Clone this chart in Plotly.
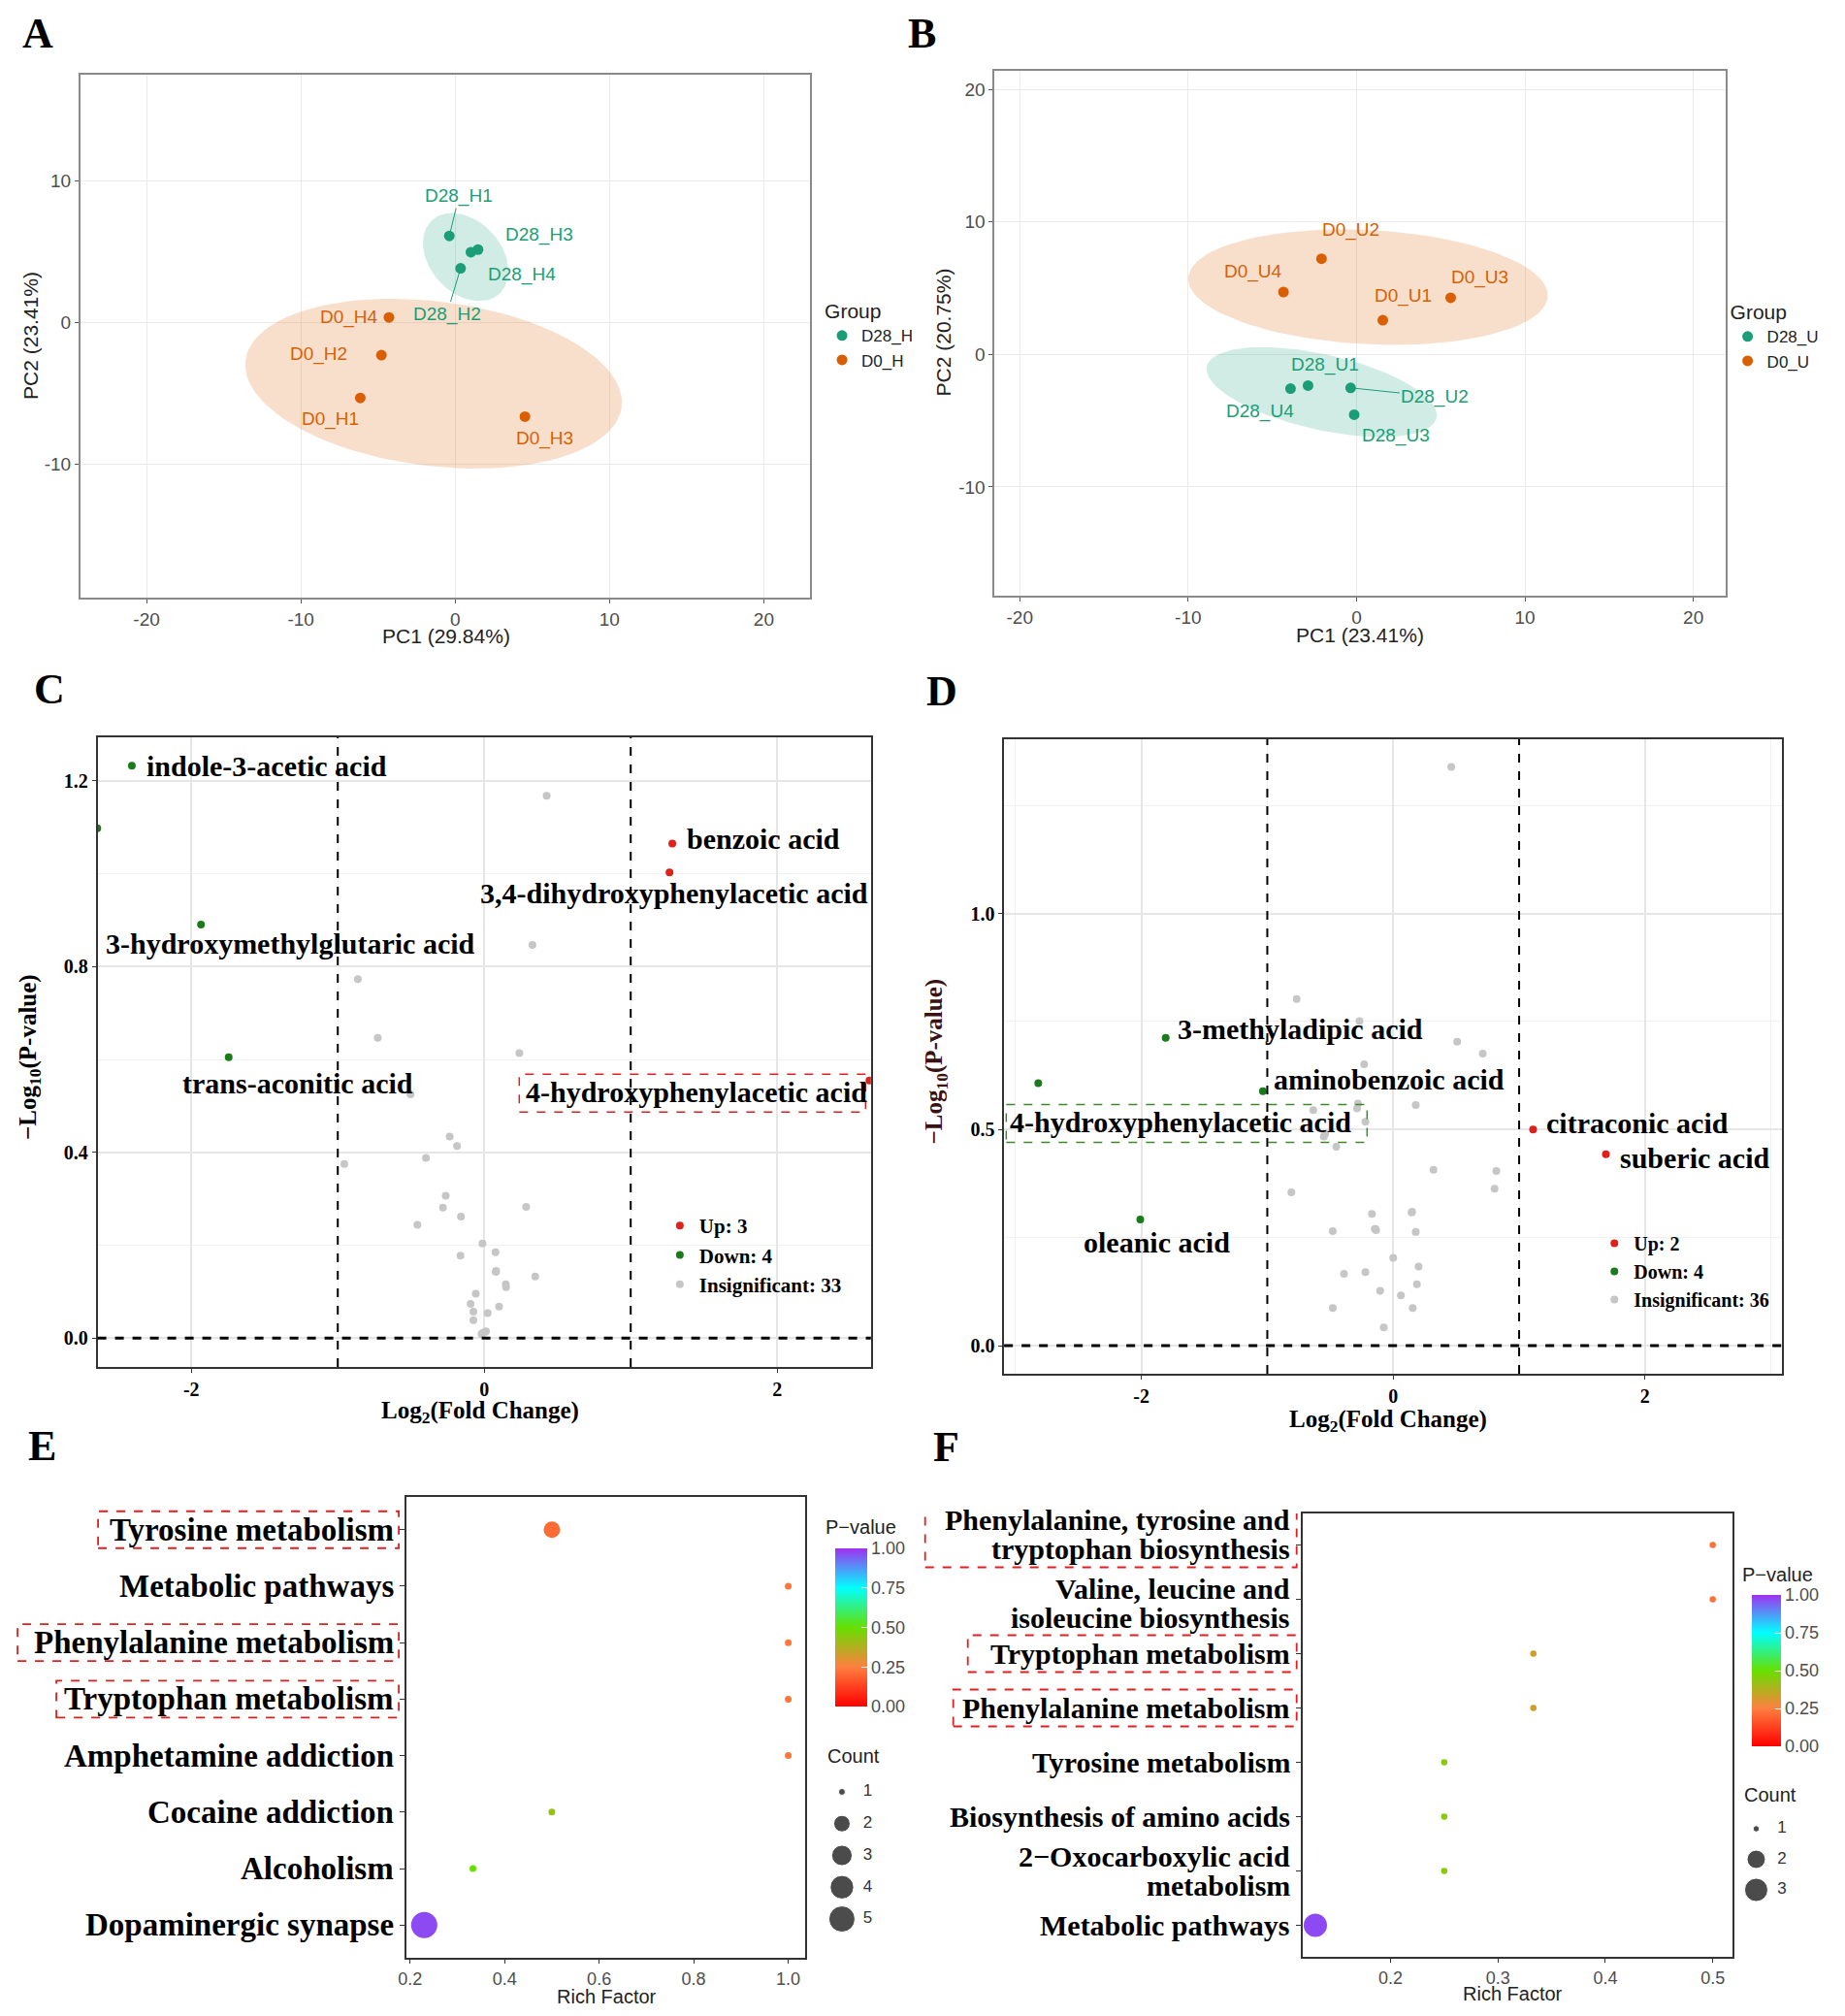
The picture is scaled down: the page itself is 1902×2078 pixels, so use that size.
import numpy as np
import plotly.graph_objects as go

W, H = 1902, 2078
OFF_X, OFF_Y = 13, 12  # page offset seen in the rendered screenshot
SERIF = "Liberation Serif, Times New Roman, serif"
SANS = "Liberation Sans, Arial, sans-serif"

# ---------------- A: PCA of H samples ----------------
a_sample = ["D28_H1", "D28_H2", "D28_H3", "D28_H4", "D0_H1", "D0_H2", "D0_H3", "D0_H4"]
a_group = ["D28_H", "D28_H", "D28_H", "D28_H", "D0_H", "D0_H", "D0_H", "D0_H"]
a_pc1 = [-0.38, 0.35, 1.48, 1.02, -6.15, -4.78, 4.52, -4.29]
a_pc2 = [6.12, 3.84, 5.16, 4.98, -5.31, -2.29, -6.63, 0.37]
a_groups = ["D28_H", "D0_H"]
a_ell_cx = [0.68, -1.4]
a_ell_cy = [4.63, -4.3]
a_ell_a = [3.4, 12.3]
a_ell_b = [2.4, 5.8]
a_ell_ang = [-55, -8]

# ---------------- B: PCA of U samples ----------------
b_sample = ["D28_U1", "D28_U2", "D28_U3", "D28_U4", "D0_U1", "D0_U2", "D0_U3", "D0_U4"]
b_group = ["D28_U", "D28_U", "D28_U", "D28_U", "D0_U", "D0_U", "D0_U", "D0_U"]
b_pc1 = [-2.88, -0.35, -0.14, -3.92, 1.56, -2.08, 5.59, -4.34]
b_pc2 = [-2.35, -2.52, -4.54, -2.58, 2.58, 7.22, 4.28, 4.71]
b_groups = ["D28_U", "D0_U"]
b_ell_cx = [-2.07, 0.68]
b_ell_cy = [-2.84, 5.08]
b_ell_a = [7.1, 10.7]
b_ell_b = [2.8, 4.3]
b_ell_ang = [-17, -4]

# ---------------- C: volcano H ----------------
c_name = ["indole-3-acetic acid", "hippuric acid", "3-hydroxymethylglutaric acid", "trans-aconitic acid",
          "benzoic acid", "3,4-dihydroxyphenylacetic acid", "4-hydroxyphenylacetic acid"] + [""] * 33
c_fc = [-2.406, -2.642, -1.934, -1.745, 1.284, 1.265, 2.63,
        0.426, 0.329, -0.863, -0.727, 0.240, -0.503, -0.236, -0.186, -0.398, -0.955,
        -0.263, -0.282, 0.286, -0.159, -0.456, -0.012, 0.077, -0.162, 0.081, 0.348,
        0.147, 0.149, -0.058, -0.093, 0.101, -0.074, 0.023, -0.074, 0.012, -0.012,
        -0.019, 0.004, 0.079]
c_logp = [1.233, 1.098, 0.891, 0.605, 1.065, 1.003, 0.555,
          1.168, 0.847, 0.773, 0.647, 0.614, 0.525, 0.434, 0.414, 0.388, 0.375,
          0.307, 0.281, 0.283, 0.262, 0.244, 0.204, 0.185, 0.178, 0.145, 0.133,
          0.116, 0.110, 0.096, 0.074, 0.068, 0.057, 0.054, 0.039, 0.015, 0.011,
          0.009, 0.013, 0.143]

# ---------------- D: volcano U ----------------
d_name = ["3-methyladipic acid", "4-hydroxyphenylacetic acid", "aminobenzoic acid", "oleanic acid",
          "citraconic acid", "suberic acid"] + [""] * 36
d_fc = [-1.807, -2.819, -1.035, -2.009, 1.111, 1.689,
        0.461, -0.767, -0.268, 0.508, 0.711, -0.231, 0.179, -0.635, -0.287, -0.221,
        -0.551, -0.452, 0.32, 0.819, -0.809, 0.805, -0.169, 0.146, -0.48, -0.146,
        -0.136, 0.179, 0.0, -0.391, -0.221, 0.202, 0.188, -0.104, 0.061, -0.48,
        0.155, -0.075, -0.54, -0.28, 0.15, -0.14]
d_logp = [0.712, 0.607, 0.589, 0.292, 0.5, 0.443,
          1.339, 0.802, 0.751, 0.703, 0.676, 0.651, 0.557, 0.545, 0.549, 0.518,
          0.484, 0.460, 0.407, 0.404, 0.355, 0.363, 0.305, 0.308, 0.265, 0.270,
          0.267, 0.263, 0.203, 0.166, 0.170, 0.183, 0.142, 0.127, 0.116, 0.087,
          0.087, 0.042, 0.49, 0.56, 0.31, 0.27]
FC_CUT = 1.0
P_LINE = 0.0

# ---------------- E: KEGG enrichment H ----------------
e_path = ["Tyrosine metabolism", "Metabolic pathways", "Phenylalanine metabolism", "Tryptophan metabolism",
          "Amphetamine addiction", "Cocaine addiction", "Alcoholism", "Dopaminergic synapse"]
e_rich = [0.5, 1.0, 1.0, 1.0, 1.0, 0.5, 0.333, 0.23]
e_count = [2, 1, 1, 1, 1, 1, 1, 5]
e_pval = [0.21, 0.23, 0.23, 0.23, 0.23, 0.42, 0.5, 0.97]

# ---------------- F: KEGG enrichment U ----------------
f_path = ["Phenylalanine, tyrosine and<br>tryptophan biosynthesis", "Valine, leucine and<br>isoleucine biosynthesis",
          "Tryptophan metabolism", "Phenylalanine metabolism", "Tyrosine metabolism",
          "Biosynthesis of amino acids", "2\u2212Oxocarboxylic acid<br>metabolism", "Metabolic pathways"]
f_rich = [0.5, 0.5, 0.333, 0.333, 0.25, 0.25, 0.25, 0.13]
f_count = [1, 1, 1, 1, 1, 1, 1, 3]
f_pval = [0.22, 0.22, 0.33, 0.33, 0.44, 0.44, 0.44, 0.97]

count_keys_e = [1, 2, 3, 4, 5]
count_keys_f = [1, 2, 3]

GREEN, ORANGE = "#1B9E77", "#D95F02"
FILLS = {GREEN: "rgba(27,158,119,0.2)", ORANGE: "rgba(217,95,2,0.2)"}
UP_C, DOWN_C, NS_C = "#E0201B", "#1B7A1B", "#C6C6C6"
PSCALE = [[0, "#FF0000"], [0.25, "#FF7F3F"], [0.5, "#66E000"], [0.75, "#00FFFF"], [1, "#A030F0"]]


def px_x(p):
    return (p - OFF_X) / W


def px_y(p):
    return 1 - (p - OFF_Y) / H


def ellipse(cx, cy, a, b, ang, n=120):
    t = np.linspace(0, 2 * np.pi, n)
    th = np.radians(ang)
    x = cx + a * np.cos(t) * np.cos(th) - b * np.sin(t) * np.sin(th)
    y = cy + a * np.cos(t) * np.sin(th) + b * np.sin(t) * np.cos(th)
    return x, y


def size_scale(c, cmin, cmax, smin, smax):
    # ggplot area palette
    t = (np.asarray(c, float) - cmin) / (cmax - cmin)
    return smin + np.sqrt(t) * (smax - smin)


fig = go.Figure()
annos = []
shapes = []

# ---- PCA panels ----
pca_label_off = {
    "D28_H1": (10, -41, True), "D28_H2": (-14, 47, True), "D28_H3": (63, -15, False), "D28_H4": (53, 23, False),
    "D0_H1": (-31, 22, False), "D0_H2": (-65, -1, False), "D0_H3": (20, 23, False), "D0_H4": (-41, 0, False),
    "D28_U1": (18, -21, False), "D28_U2": (87, 9, True), "D28_U3": (43, 22, False), "D28_U4": (-31, 23, False),
    "D0_U1": (21, -25, False), "D0_U2": (30, -30, False), "D0_U3": (30, -21, False), "D0_U4": (-31, -21, False),
}

for ax, leg, samples, groups, pc1, pc2, glist, ecx, ecy, ea, eb, eang in [
    ("", "legend", a_sample, a_group, a_pc1, a_pc2, a_groups, a_ell_cx, a_ell_cy, a_ell_a, a_ell_b, a_ell_ang),
    ("2", "legend2", b_sample, b_group, b_pc1, b_pc2, b_groups, b_ell_cx, b_ell_cy, b_ell_a, b_ell_b, b_ell_ang),
]:
    cols = [GREEN, ORANGE]
    for gi, g in enumerate(glist):
        ex, ey = ellipse(ecx[gi], ecy[gi], ea[gi], eb[gi], eang[gi])
        fig.add_trace(go.Scatter(x=ex, y=ey, mode="lines", fill="toself", fillcolor=FILLS[cols[gi]],
                                 line=dict(width=0), hoverinfo="skip", showlegend=False,
                                 xaxis="x" + ax, yaxis="y" + ax))
    for gi, g in enumerate(glist):
        idx = [i for i, gg in enumerate(groups) if gg == g]
        fig.add_trace(go.Scatter(x=[pc1[i] for i in idx], y=[pc2[i] for i in idx], mode="markers",
                                 marker=dict(color=cols[gi], size=11), name=g, legend=leg,
                                 xaxis="x" + ax, yaxis="y" + ax))
        for i in idx:
            dx, dy, line = pca_label_off[samples[i]]
            an = dict(x=pc1[i], y=pc2[i], xref="x" + ax, yref="y" + ax, text=samples[i],
                      font=dict(family=SANS, size=19, color=cols[gi]))
            if line:
                an.update(showarrow=True, ax=dx, ay=dy, arrowhead=0, arrowwidth=1,
                          arrowcolor=cols[gi], standoff=4)
            else:
                an.update(showarrow=False, xshift=dx, yshift=-dy)
            annos.append(an)

# ---- volcano panels ----
volc_label_off = {
    "C": {"indole-3-acetic acid": (13, 0), "hippuric acid": (7, -3), "3-hydroxymethylglutaric acid": (-100, -20),
          "trans-aconitic acid": (-50, -27), "benzoic acid": (13, 5), "3,4-dihydroxyphenylacetic acid": (-197, -21),
          "4-hydroxyphenylacetic acid": (-356, -12)},
    "D": {"3-methyladipic acid": (10, 9), "aminobenzoic acid": (9, 12), "4-hydroxyphenylacetic acid": (-31, -40),
          "citraconic acid": (12, 7), "suberic acid": (13, -4), "oleanic acid": (-60, -24)},
}
volc_box = {"C": ("4-hydroxyphenylacetic acid", -361, -4, -32.5, 6.5, "#E02020"),
            "D": ("4-hydroxyphenylacetic acid", -33, 339, -61, -22, "#3A8A2A")}

for key, ax, leg, names, fc, lp in [("C", "3", "legend3", c_name, c_fc, c_logp),
                                    ("D", "4", "legend4", d_name, d_fc, d_logp)]:
    fc = np.array(fc)
    lp = np.array(lp)
    up = fc > FC_CUT
    down = fc < -FC_CUT
    ns = ~(up | down)
    for mask, col, lab in [(up, UP_C, "Up"), (down, DOWN_C, "Down"), (ns, NS_C, "Insignificant")]:
        fig.add_trace(go.Scatter(x=fc[mask], y=lp[mask], mode="markers",
                                 marker=dict(color=col, size=8), name=f"{lab}: {mask.sum()}",
                                 legend=leg, xaxis="x" + ax, yaxis="y" + ax))
    for i, nm in enumerate(names):
        if nm:
            dx, dy = volc_label_off[key][nm]
            annos.append(dict(x=fc[i], y=lp[i], xref="x" + ax, yref="y" + ax, text=nm, showarrow=False,
                              xanchor="left", yanchor="middle", xshift=dx, yshift=dy,
                              font=dict(family=SERIF, size=30, color="black", weight="bold")))
    bname, bx0, bx1, by0, by1, bcol = volc_box[key]
    bi = names.index(bname)
    shapes.append(dict(type="rect", xref="x" + ax, yref="y" + ax, xsizemode="pixel", ysizemode="pixel",
                       xanchor=fc[bi], yanchor=lp[bi], x0=bx0, x1=bx1, y0=by0, y1=by1,
                       line=dict(color=bcol, width=1.5, dash="dash")))
    for xv in (-FC_CUT, FC_CUT):
        shapes.append(dict(type="line", xref="x" + ax, yref="y" + ax + " domain", x0=xv, x1=xv, y0=0, y1=1,
                           line=dict(color="black", width=2, dash="dash")))
    shapes.append(dict(type="line", xref="x" + ax + " domain", yref="y" + ax, x0=0, x1=1, y0=P_LINE, y1=P_LINE,
                       line=dict(color="black", width=3, dash="dash")))

# ---- enrichment panels ----
for ax, cax, paths, rich, cnt, pv, smin, smax, cmax in [
    ("5", "coloraxis", e_path, e_rich, e_count, e_pval, 7, 27, 5),
    ("6", "coloraxis2", f_path, f_rich, f_count, f_pval, 6.5, 24, 3),
]:
    fig.add_trace(go.Scatter(x=rich, y=paths, mode="markers",
                             marker=dict(size=size_scale(cnt, 1, cmax, smin, smax), color=pv,
                                         coloraxis=cax, line=dict(width=0), opacity=1),
                             showlegend=False, xaxis="x" + ax, yaxis="y" + ax))

# pathway names drawn as text beside the category axis (tight two-line spacing)
label_dy = {"5": [0] * 8, "6": [11, -4, 0, 0, 0, 0, 0, 0]}
for ax, paths, fsize in [("5", e_path, 33), ("6", f_path, 30)]:
    for j, p in enumerate(paths):
        lines = p.split("<br>")
        n = len(lines)
        for k, ln in enumerate(lines):
            annos.append(dict(x=0, xref="x" + ax + " domain", y=p, yref="y" + ax, text=ln, showarrow=False,
                              xanchor="right", yanchor="middle", xshift=-11,
                              yshift=(n - 1) * 15 - k * 30 + label_dy[ax][j],
                              font=dict(family=SERIF, size=fsize, color="black", weight="bold")))

# size keys (Count legend) drawn on their own small axes
for ax, keys, smin, smax, cmax in [("7", count_keys_e, 7, 27, 5), ("8", count_keys_f, 6.5, 24, 3)]:
    fig.add_trace(go.Scatter(x=[18] * len(keys), y=keys, mode="markers",
                             marker=dict(size=size_scale(keys, 1, cmax, smin, smax), color="black"),
                             showlegend=False, hoverinfo="skip", xaxis="x" + ax, yaxis="y" + ax))
    fig.add_trace(go.Scatter(x=[40] * len(keys), y=keys, mode="text", text=[str(k) for k in keys],
                             textposition="middle right", textfont=dict(family=SANS, size=17, color="#333333"),
                             showlegend=False, hoverinfo="skip", xaxis="x" + ax, yaxis="y" + ax))

enrich_box = [
    ("5", 0, -318, -8, -19, 19), ("5", 2, -401, -8, -19, 19), ("5", 3, -361, -8, -19, 19),
    ("6", 0, -389, -6, -23, 43), ("6", 2, -345, -6, -19, 19), ("6", 3, -360, -6, -19, 19),
]
for ax, ci, x0, x1, y0, y1 in enrich_box:
    shapes.append(dict(type="rect", xref="x" + ax + " domain", yref="y" + ax, xsizemode="pixel",
                       ysizemode="pixel", xanchor=0, yanchor=ci, x0=x0, x1=x1, y0=y0, y1=y1,
                       line=dict(color="#E02020", width=1.8, dash="dash")))


# ---------------- axes ----------------
def pca_axis(dom, rng, vals, anchor):
    return dict(domain=dom, range=rng, anchor=anchor, tickvals=vals, ticktext=[str(v) for v in vals],
                showgrid=True, gridcolor="#EBEBEB", gridwidth=1.2, zeroline=False,
                showline=True, mirror=True, linecolor="#8A8A8A", linewidth=1.5,
                ticks="outside", ticklen=4, tickcolor="#555555",
                tickfont=dict(family=SANS, size=19, color="#4D4D4D"))


def volc_axis(dom, rng, dtick, minor, fmt, anchor, labels=None):
    d = dict(domain=dom, range=rng, anchor=anchor, dtick=dtick, tick0=0, showgrid=True, gridcolor="#E6E6E6",
             gridwidth=1.5, minor=dict(dtick=minor, tick0=0, showgrid=True, gridcolor="#F0F0F0", gridwidth=1),
             zeroline=False, showline=True, mirror=True, linecolor="#333333", linewidth=1.5,
             ticks="outside", ticklen=4, tickcolor="#333333",
             tickfont=dict(family=SERIF, size=20, color="black", weight="bold"))
    if fmt:
        d["tickformat"] = fmt
    if labels is not None:
        d["tickvals"] = labels
        d["ticktext"] = [str(v) for v in labels]
    return d


def enr_x(dom, rng, vals, anchor):
    return dict(domain=dom, range=rng, anchor=anchor, tickvals=vals, ticktext=[f"{v:.1f}" for v in vals],
                showgrid=False, zeroline=False, showline=True, mirror=True, linecolor="#333333", linewidth=1.8,
                ticks="outside", ticklen=4, tickcolor="#333333",
                tickfont=dict(family=SANS, size=18, color="#4D4D4D"))


def enr_y(dom, cats, anchor):
    return dict(domain=dom, anchor=anchor, type="category", categoryorder="array", categoryarray=cats,
                range=[len(cats) - 0.42, -0.58], showgrid=False, zeroline=False, showline=True, mirror=True,
                linecolor="#333333", linewidth=1.8, ticks="outside", ticklen=5, tickcolor="#333333",
                showticklabels=False)


def hidden(dom, rng, anchor):
    return dict(domain=dom, range=rng, anchor=anchor, visible=False, showgrid=False, zeroline=False,
                fixedrange=True)


def cbar(x, bar_top, bar_bot, th):
    return dict(x=px_x(x), xanchor="left", y=px_y(bar_top), yanchor="top", len=bar_bot - bar_top,
                lenmode="pixels", thickness=th, outlinewidth=0, ypad=0,
                tickvals=[0, 0.25, 0.5, 0.75, 1], tickformat=".2f", ticks="inside", ticklen=6,
                tickcolor="white", tickfont=dict(family=SANS, size=18, color="#4D4D4D"))


fig.update_layout(
    width=W, height=H, margin=dict(l=0, r=0, t=0, b=0), paper_bgcolor="white", plot_bgcolor="white",
    xaxis=pca_axis([px_x(79), px_x(835)], [-24.3, 23], [-20, -10, 0, 10, 20], "y"),
    yaxis=pca_axis([px_y(620), px_y(81)], [-19.4, 17.5], [-10, 0, 10], "x"),
    xaxis2=pca_axis([px_x(1026), px_x(1783)], [-21.5, 21.9], [-20, -10, 0, 10, 20], "y2"),
    yaxis2=pca_axis([px_y(618), px_y(77)], [-18.2, 21.4], [-10, 0, 10, 20], "x2"),
    xaxis3=volc_axis([px_x(97), px_x(898)], [-2.64, 2.64], 2, 1, None, "y3", [-2, 0, 2]),
    yaxis3=volc_axis([px_y(1413), px_y(764)], [-0.062, 1.294], 0.4, 0.2, ".1f", "x3"),
    xaxis4=volc_axis([px_x(1036), px_x(1842)], [-3.09, 3.09], 2, 1, None, "y4", [-2, 0, 2]),
    yaxis4=volc_axis([px_y(1420), px_y(766)], [-0.065, 1.403], 0.5, 0.25, ".1f", "x4"),
    xaxis5=enr_x([px_x(417), px_x(830)], [0.1926, 1.036], [0.2, 0.4, 0.6, 0.8, 1.0], "y5"),
    yaxis5=enr_y([px_y(2022), px_y(1547)], e_path, "x5"),
    xaxis6=enr_x([px_x(1345), px_x(1790)], [0.118, 0.518], [0.2, 0.3, 0.4, 0.5], "y6"),
    yaxis6=enr_y([px_y(2021), px_y(1564)], f_path, "x6"),
    xaxis7=hidden([px_x(850), px_x(920)], [0, 70], "y7"),
    yaxis7=hidden([px_y(1998.4), px_y(1834.6)], [5.5, 0.5], "x7"),
    xaxis8=hidden([px_x(1797), px_x(1867)], [0, 70], "y8"),
    yaxis8=hidden([px_y(1967.75), px_y(1873.25)], [3.5, 0.5], "x8"),
    coloraxis=dict(colorscale=PSCALE, cmin=0, cmax=1, colorbar=cbar(851, 1600, 1763, 33)),
    coloraxis2=dict(colorscale=PSCALE, cmin=0, cmax=1, colorbar=cbar(1800, 1648, 1804, 30)),
    legend=dict(x=px_x(848), y=px_y(305), xanchor="left", yanchor="top", bgcolor="rgba(0,0,0,0)",
                title=dict(text="Group", font=dict(family=SANS, size=21, color="#222")),
                font=dict(family=SANS, size=17, color="#222")),
    legend2=dict(x=px_x(1786), y=px_y(306), xanchor="left", yanchor="top", bgcolor="rgba(0,0,0,0)",
                 title=dict(text="Group", font=dict(family=SANS, size=21, color="#222")),
                 font=dict(family=SANS, size=17, color="#222")),
    legend3=dict(x=px_x(680), y=px_y(1247), xanchor="left", yanchor="top", bgcolor="rgba(0,0,0,0)",
                 font=dict(family=SERIF, size=21, color="black", weight="bold")),
    legend4=dict(x=px_x(1648), y=px_y(1266), xanchor="left", yanchor="top", bgcolor="rgba(0,0,0,0)",
                 font=dict(family=SERIF, size=20, color="black", weight="bold")),
)

# axis titles, legend titles and panel letters
sans_t = dict(family=SANS, size=21, color="#222222")
serif_t = dict(family=SERIF, size=25, color="black", weight="bold")
small_t = dict(family=SANS, size=20, color="#222222")
titles = [
    (458, 660, "PC1 (29.84%)", 0, sans_t, "center"), (28, 350, "PC2 (23.41%)", -90, sans_t, "center"),
    (1405, 658, "PC1 (23.41%)", 0, sans_t, "center"), (974, 346, "PC2 (20.75%)", -90, sans_t, "center"),
    (493, 1459, "Log<sub>2</sub>(Fold Change)", 0, serif_t, "center"),
    (26, 1093, "\u2212Log<sub>10</sub>(P-value)", -90, serif_t, "center"),
    (1434, 1468, "Log<sub>2</sub>(Fold Change)", 0, serif_t, "center"),
    (965, 1098, "\u2212Log<sub>10</sub>(P-value)", -90, dict(serif_t, color="#3A1212"), "center"),
    (624, 2062, "Rich Factor", 0, small_t, "center"),
    (1563, 2059, "Rich Factor", 0, small_t, "center"),
    (851, 1814, "Count", 0, small_t, "left"),
    (1800, 1854, "Count", 0, small_t, "left"),
    (849, 1578, "P\u2212value", 0, small_t, "left"),
    (1798, 1627, "P\u2212value", 0, small_t, "left"),
]
for x, y, t, rot, f, xa in titles:
    annos.append(dict(x=px_x(x), y=px_y(y), xref="paper", yref="paper", text=t, showarrow=False,
                      textangle=rot, font=f, xanchor=xa, yanchor="middle"))

letter_font = dict(family=SERIF, size=44, color="black", weight="bold")
for x, y, t, ya in [(35, 12, "A", "top"), (951, 12, "B", "top"), (47, 715, "C", "middle"),
                    (972, 716, "D", "middle"), (40, 1494, "E", "middle"), (976, 1495, "F", "middle")]:
    annos.append(dict(x=px_x(x), y=px_y(y), xref="paper", yref="paper", text=t, showarrow=False,
                      font=letter_font, xanchor="center", yanchor=ya))

fig.update_layout(annotations=annos, shapes=shapes)
fig.write_html("out.html")
